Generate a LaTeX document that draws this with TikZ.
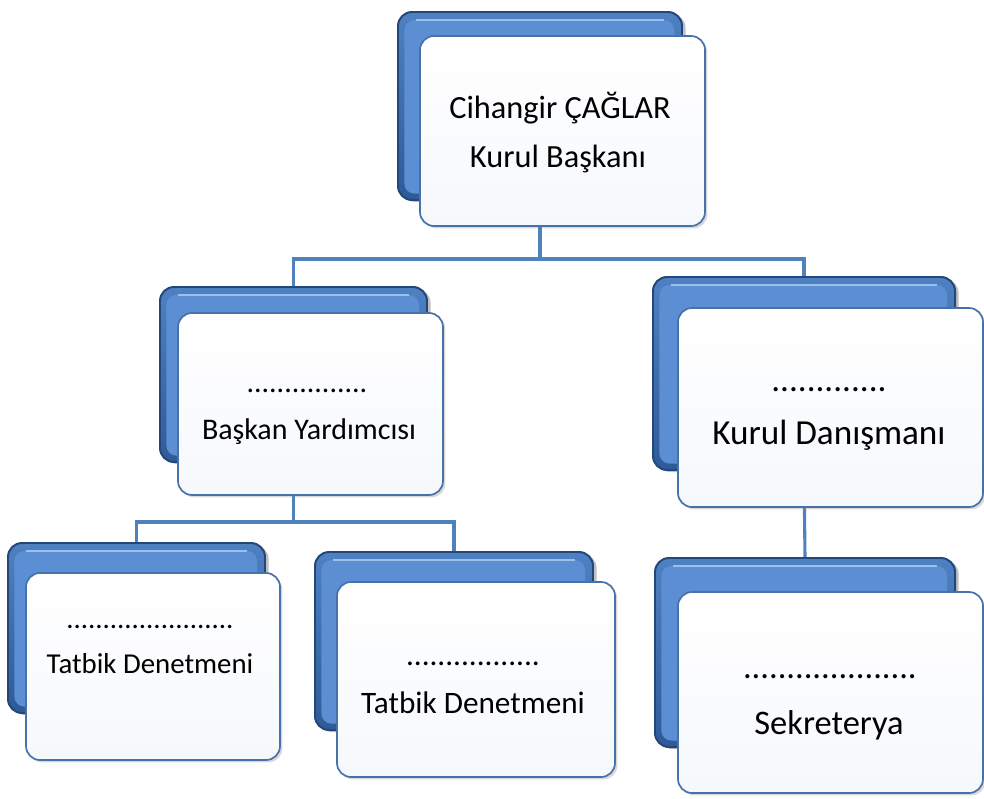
\documentclass[tikz,border=0pt]{standalone}
\usepackage{fontspec}
\setmainfont{Carlito}
\usetikzlibrary{fit,shadows,backgrounds}

\definecolor{orgline}{HTML}{4F81BD}
\definecolor{bluetop}{HTML}{4F80C2}
\definecolor{bluebot}{HTML}{2E5B98}
\definecolor{blueface}{HTML}{5B8ED3}
\definecolor{bluehi}{HTML}{9CC0EE}
\definecolor{blueedge}{HTML}{24477A}
\definecolor{frontedge}{HTML}{4672AA}
\definecolor{frontbot}{HTML}{F6F8FC}

\tikzset{
  backbox/.style={rounded corners=0.35cm, inner sep=0pt, draw=blueedge, line width=1.4pt,
    top color=bluetop, bottom color=bluebot,
    drop shadow={opacity=0.5, shadow xshift=0.09cm, shadow yshift=-0.05cm},
    path picture={
      \fill[blueface, rounded corners=0.25cm]
        ([shift={(0.16cm,-0.2cm)}]path picture bounding box.north west) rectangle
        ([shift={(-0.2cm,0.16cm)}]path picture bounding box.south east);
      \draw[bluehi, line width=1pt]
        ([shift={(0.45cm,-0.2cm)}]path picture bounding box.north west) --
        ([shift={(-0.45cm,-0.2cm)}]path picture bounding box.north east);
    }},
  frontbox/.style={rounded corners=0.35cm, inner sep=0pt, draw=frontedge, line width=1.2pt,
    top color=white, bottom color=frontbot,
    drop shadow={opacity=0.3, shadow xshift=0.06cm, shadow yshift=-0.06cm}},
  conn/.style={draw=orgline, line width=2.2pt},
  boxtext/.style={anchor=base, inner sep=0pt, font=\fontsize{#1}{#1}\selectfont},
}

\begin{document}
\begin{tikzpicture}[x=0.025cm, y=-0.025cm]
  \useasboundingbox (0,0) rectangle (984,798);

  % Kurul Başkanı
  \node[backbox, fit={(398,12) (682,200)}] (topback) {};
  \node[frontbox, fit={(420,36) (705,226)}] (top) {};
  \node[boxtext=23] (topname) at (560,118) {Cihangir ÇAĞLAR};
  \node[boxtext=23] (toptitle) at (558,167) {Kurul Başkanı};

  % Başkan Yardımcısı
  \node[backbox, fit={(160,287) (427,462)}] (baskanback) {};
  \node[frontbox, fit={(178,313) (443,495)}] (baskan) {};
  \node[boxtext=21.3] (baskandots) at (307,392) {................};
  \node[boxtext=21.3] (baskantitle) at (309,439) {Başkan Yardımcısı};

  % Kurul Danışmanı
  \node[backbox, fit={(653,277) (955,470)}] (danismanback) {};
  \node[frontbox, fit={(678,308) (983,507)}] (danisman) {};
  \node[boxtext=25] (danismandots) at (829,391) {.............};
  \node[boxtext=25] (danismantitle) at (829,444) {Kurul Danışmanı};

  % Tatbik Denetmeni (sol)
  \node[backbox, fit={(8,543) (265,713)}] (tatbikaback) {};
  \node[frontbox, fit={(26,573) (280,760)}] (tatbika) {};
  \node[boxtext=20.5] (tatbikadots) at (150,628) {.......................};
  \node[boxtext=20.5] (tatbikatitle) at (150,673) {Tatbik Denetmeni};

  % Tatbik Denetmeni (orta)
  \node[backbox, fit={(315,552) (593,730)}] (tatbikbback) {};
  \node[frontbox, fit={(337,582) (615,777)}] (tatbikb) {};
  \node[boxtext=22.2] (tatbikbdots) at (473,665) {.................};
  \node[boxtext=22.2] (tatbikbtitle) at (473,713) {Tatbik Denetmeni};

  % Sekreterya
  \node[backbox, fit={(655,558) (955,747)}] (sekback) {};
  \node[frontbox, fit={(678,592) (983,793)}] (sek) {};
  \node[boxtext=24.5] (sekdots) at (830,678) {....................};
  \node[boxtext=24.5] (sektitle) at (829,734) {Sekreterya};

  % bağlantılar
  \begin{scope}[on background layer]
    \path (topback.south) ++(0,58) coordinate (topsplit);
    \path (baskanback.south) ++(0,59) coordinate (baskansplit);
    \draw[conn] (topback.south) -- (topsplit) -| (baskanback.north);
    \draw[conn] (topsplit) -| (danismanback.north);
    \draw[conn] (baskanback.south) -- (baskansplit) -| (tatbikaback.north);
    \draw[conn] (baskansplit) -| (tatbikbback.north);
    \draw[conn] (danismanback.south) -- (sekback.north);
  \end{scope}
\end{tikzpicture}
\end{document}
